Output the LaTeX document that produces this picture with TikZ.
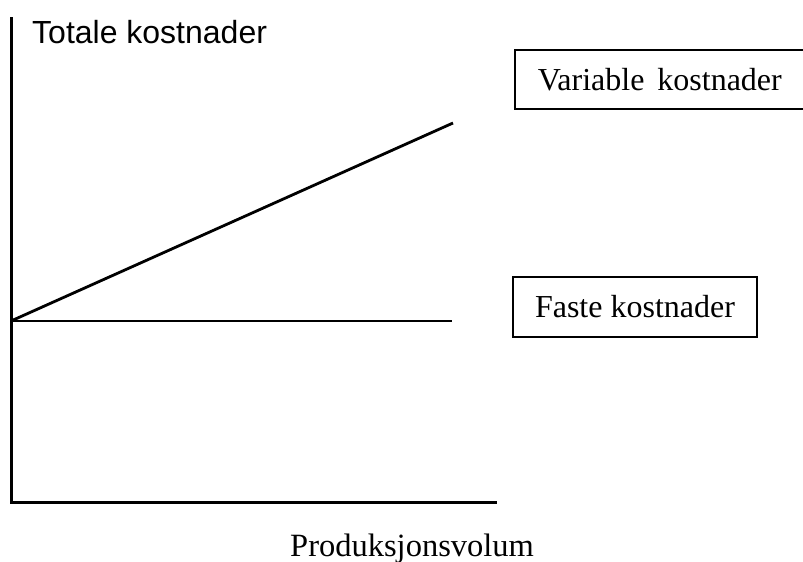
\documentclass[tikz,border=0pt]{standalone}
\usepackage{fontspec}
\setmainfont{Liberation Serif}
\setsansfont{Liberation Sans}
\usepackage{tikz}
\usetikzlibrary{positioning}

\begin{document}
\begin{tikzpicture}[
    x=1pt, y=-1pt,
    axis/.style={line width=3pt},
    curve/.style={line width=2.8pt},
    lbox/.style={draw, line width=1.6pt, font=\fontsize{32}{36}\selectfont},
    lbl/.style={font=\fontsize{32}{36}\selectfont, inner sep=0pt}
]
\useasboundingbox (0,0) rectangle (803,562);
\clip (0,0) rectangle (803,562);
% axes
\coordinate (top) at (11,17);
\coordinate (origin) at (11,502);
\coordinate (xend) at (497,502);
\draw[axis] (top) -- (origin) -- (xend);
% cost lines
\coordinate (fix) at (11,321);
\coordinate (fixend) at (452,321);
\coordinate (varend) at (453,123);
\draw[curve] (fix) -- (fixend);
\draw[curve] (fix) -- (varend);
% labels
\node[lbl, anchor=base west, font=\sffamily\fontsize{32}{36}\selectfont] (ylabel) at (32,43) {Totale kostnader};
\node[lbl, anchor=base west, font=\fontsize{32.5}{36}\selectfont] (xlabel) at (290,556) {Produksjonsvolum};
\node[lbox, anchor=north west, text width=270pt, align=left, inner xsep=23pt,
      minimum height=59pt] (var) at (514,49) {Variable\hspace{13pt}kostnader};
\node[lbox, minimum width=244pt, minimum height=60pt] (faste) at (635,307) {Faste kostnader};
\end{tikzpicture}
\end{document}
